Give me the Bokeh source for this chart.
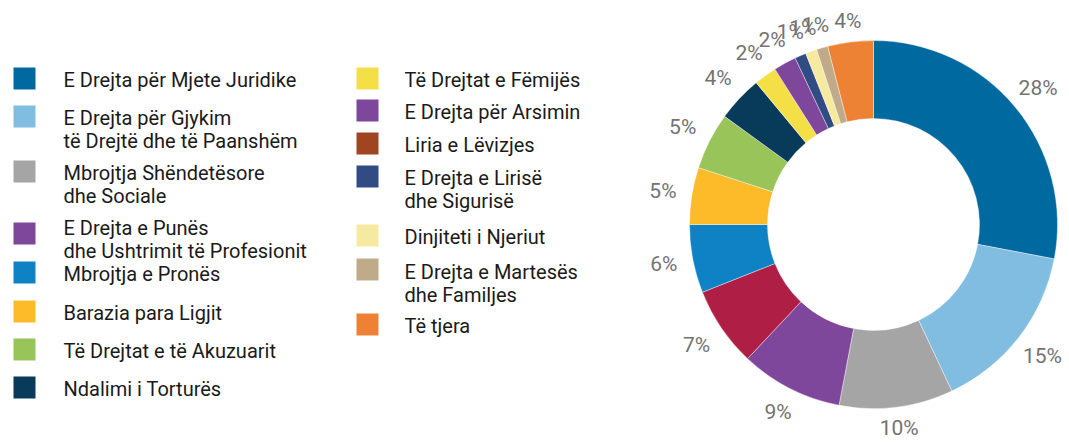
import math
from bokeh.plotting import figure
from bokeh.models import ColumnDataSource, Range1d
from bokeh.core.properties import value
from bokeh.embed import file_html
from bokeh.resources import INLINE

# ---------------- data ----------------
legend_labels = [
    "E Drejta për Mjete Juridike",
    "E Drejta për Gjykim\ntë Drejtë dhe të Paanshëm",
    "Mbrojtja Shëndetësore\ndhe Sociale",
    "E Drejta e Punës\ndhe Ushtrimit të Profesionit",
    "Mbrojtja e Pronës",
    "Barazia para Ligjit",
    "Të Drejtat e të Akuzuarit",
    "Ndalimi i Torturës",
    "Të Drejtat e Fëmijës",
    "E Drejta për Arsimin",
    "Liria e Lëvizjes",
    "E Drejta e Lirisë\ndhe Sigurisë",
    "Dinjiteti i Njeriut",
    "E Drejta e Martesës\ndhe Familjes",
    "Të tjera",
]
legend_colors = [
    "#00699F", "#80BDE0", "#A5A5A5", "#7E479B", "#0E82C5", "#FDBB2A",
    "#99C45A", "#083A59", "#F5DF47", "#7E479B", "#9F4522", "#314C82",
    "#F6E9A0", "#BFAA8A", "#EE8234",
]
slice_values = [28, 15, 10, 9, 7, 6, 5, 5, 4, 2, 2, 1, 1, 1, 4]
slice_colors = [
    "#00699F", "#80BDE0", "#A5A5A5", "#7E479B", "#AF1E45", "#0E82C5",
    "#FDBB2A", "#99C45A", "#083A59", "#F5DF47", "#7E479B", "#314C82",
    "#F6E9A0", "#BFAA8A", "#EE8234",
]

# ---------------- layout ----------------
W, H = 1064, 444


def px(x):
    return x


def py(y):
    return H - y


p = figure(width=W, height=H, x_range=Range1d(0, W), y_range=Range1d(0, H),
           output_backend="svg", toolbar_location=None, min_border=0)
p.axis.visible = False
p.grid.visible = False
p.outline_line_color = None
p.background_fill_color = "white"

cx, cy = px(873), py(224)
R_OUT, R_IN = 184, 106

total = float(sum(slice_values))
starts, ends, lx, ly = [], [], [], []
cum = 0.0
for v in slice_values:
    s = math.pi / 2 - 2 * math.pi * cum / total
    cum += v
    e = math.pi / 2 - 2 * math.pi * cum / total
    starts.append(s)
    ends.append(e)
    m = (s + e) / 2
    ux, uy = math.cos(m), math.sin(m)
    r = R_OUT + 10 + 18 * abs(ux) + 9 * abs(uy)
    lx.append(cx + r * ux)
    ly.append(cy + r * uy)

src = ColumnDataSource(dict(start=starts, end=ends, color=slice_colors,
                            lx=lx, ly=ly,
                            label=[f"{v}%" for v in slice_values]))
p.annular_wedge(x=cx, y=cy, inner_radius=R_IN, outer_radius=R_OUT,
                start_angle="start", end_angle="end", direction="clock",
                fill_color="color", line_color="white", line_width=0.4,
                source=src)
p.text(x="lx", y="ly", text="label", source=src, text_align="center",
       text_baseline="middle", text_font=value("Roboto"),
       text_font_size="21px", text_color="#737373")

# legend (manual, two columns)
col1_y = [79, 117, 172, 227, 273, 312, 350, 388]
col2_y = [79, 111, 144, 177, 236, 271, 325]
sq_off = [0, 0, 0, 7, 0, 0, 0, 0, 0, 0, 0, 0, 0, -1, 0]
LINE_GAP = 23
leg_sx, leg_sy = [], []
line_x, line_y, line_text = [], [], []
for i, lab in enumerate(legend_labels):
    if i < 8:
        yy, sx, tx = col1_y[i], 24, 63
    else:
        yy, sx, tx = col2_y[i - 8], 367, 404
    leg_sx.append(px(sx))
    leg_sy.append(py(yy - 1 + sq_off[i]))
    for j, part in enumerate(lab.split("\n")):
        line_x.append(px(tx))
        line_y.append(py(yy + j * LINE_GAP))
        line_text.append(part)

lsrc = ColumnDataSource(dict(sx=leg_sx, sy=leg_sy, color=legend_colors))
p.rect(x="sx", y="sy", width=22, height=22, fill_color="color",
       line_color=None, source=lsrc)
tsrc = ColumnDataSource(dict(x=line_x, y=line_y, text=line_text))
p.text(x="x", y="y", text="text", source=tsrc, text_align="left",
       text_baseline="middle", text_font=value("Roboto"),
       text_font_size="20px", text_color="#1A1A1A")

open("out.html", "w").write(file_html(p, INLINE))
